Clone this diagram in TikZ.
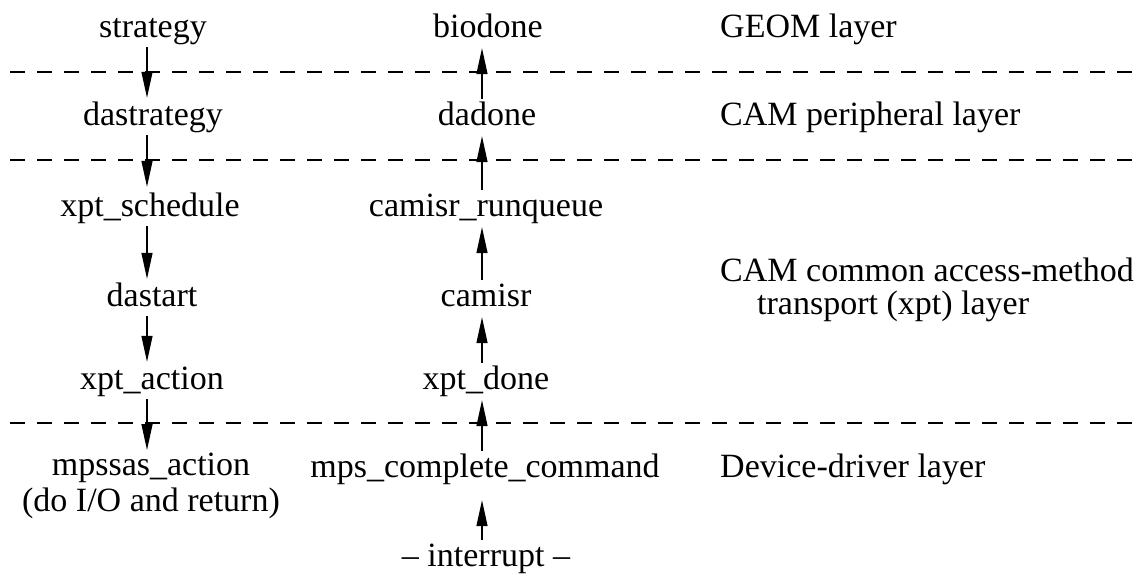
\documentclass[tikz,border=0pt]{standalone}
\usepackage{fontspec}
\setmainfont{Liberation Serif}
\usetikzlibrary{arrows.meta}
\begin{document}
\begin{tikzpicture}[x=1pt,y=-1pt,
  lbl/.style={font=\fontsize{34}{33}\selectfont, inner sep=0pt, text height=24pt, text depth=8pt, anchor=base},
  layerlbl/.style={lbl, anchor=base west},
  arr/.style={-{Triangle[length=26pt,width=11pt]}, line width=1.3pt, shorten <=2pt, shorten >=3pt},
  sepline/.style={dash pattern=on 15pt off 12pt, line width=1.3pt}]
\useasboundingbox (0,0) rectangle (1142,574);

% column guides for arrows
\coordinate (colL) at (147,0);
\coordinate (colM) at (482,0);
\coordinate (sepL1) at (10,72);  \coordinate (sepR1) at (1142,72);
\coordinate (sepL2) at (10,160); \coordinate (sepR2) at (1142,160);
\coordinate (sepL3) at (10,423); \coordinate (sepR3) at (1142,423);

% layer separators
\draw[sepline] (sepL1) -- (sepR1);
\draw[sepline] (sepL2) -- (sepR2);
\draw[sepline] (sepL3) -- (sepR3);

% left column
\node[lbl] (strategy)   at (153,37)  {strategy};
\node[lbl] (dastrategy) at (153,125) {dastrategy};
\node[lbl] (xptsched)   at (150,216) {xpt\_schedule};
\node[lbl] (dastart)    at (152,306) {dastart};
\node[lbl] (xptaction)  at (152,389) {xpt\_action};
\node[font=\fontsize{34}{36}\selectfont, inner sep=0pt, align=center, anchor=north] (mpssas) at (151,453)
  {mpssas\_action\\(do I/O and return)};

% middle column
\node[lbl] (biodone)   at (488,37)  {biodone};
\node[lbl] (dadone)    at (487,125) {dadone};
\node[lbl] (camisrrq)  at (486,216) {camisr\_runqueue};
\node[lbl] (camisr)    at (486,306) {camisr};
\node[lbl] (xptdone)   at (486,389) {xpt\_done};
\node[lbl] (mpscc)     at (485,477) {mps\_complete\_command};
\node[lbl] (interrupt) at (486,566) {\textendash{} interrupt \textendash};

% right column
\node[layerlbl] (geom)   at (720,37)  {GEOM layer};
\node[layerlbl] (camper) at (720,125) {CAM peripheral layer};
\node[layerlbl] (camxpt1) at (720,281) {CAM common access-method};
\node[layerlbl] (camxpt2) at (757,314) {transport (xpt) layer};
\node[layerlbl] (devdrv) at (720,477) {Device-driver layer};

% downward calls
\draw[arr] (strategy.south -| colL)   -- (dastrategy.north -| colL);
\draw[arr, shorten >=5pt] (dastrategy.south -| colL) -- (xptsched.north -| colL);
\draw[arr] (xptsched.south -| colL)   -- (dastart.north -| colL);
\draw[arr] (dastart.south -| colL)    -- (xptaction.north -| colL);
\draw[arr] (xptaction.south -| colL)  -- (mpssas.north -| colL);

% upward completions
\draw[arr] (dadone.north -| colM)    -- (biodone.south -| colM);
\draw[arr] (camisrrq.north -| colM)  -- (dadone.south -| colM);
\draw[arr] (camisr.north -| colM)    -- (camisrrq.south -| colM);
\draw[arr] (xptdone.north -| colM)   -- (camisr.south -| colM);
\draw[arr] (mpscc.north -| colM)     -- (xptdone.south -| colM);
\draw[arr, shorten >=15pt] (interrupt.north -| colM) -- (mpscc.south -| colM);
\end{tikzpicture}
\end{document}
